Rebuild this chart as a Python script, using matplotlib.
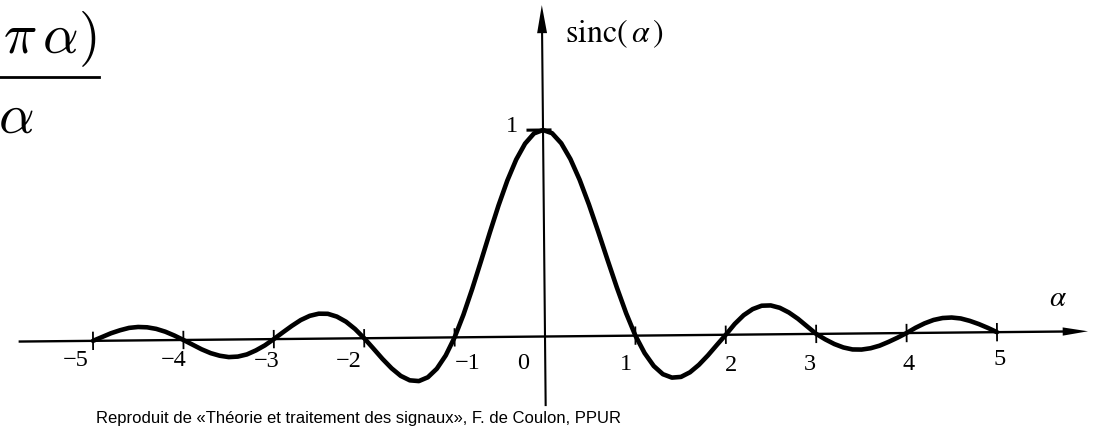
"""sinc(alpha) drawn as a textbook figure: bare axes, arrows, hand-placed labels."""

import numpy as np
import matplotlib
matplotlib.use('Agg')
import matplotlib.pyplot as plt
from matplotlib.transforms import Affine2D

# Curve samples, step 0.1 from -5 to 5
alpha = np.round(np.arange(-50, 51) / 10., 1)
sinc_vals = [
    0.000, 0.018, 0.036, 0.050, 0.061, 0.065, 0.063, 0.055, 0.041, 0.022,    # -5.0 .. -4.1
    0.000, -0.023, -0.046, -0.065, -0.078, -0.085, -0.083, -0.073, -0.054, -0.030,  # -4.0 .. -3.1
    0.000, 0.032, 0.063, 0.091, 0.111, 0.121, 0.120, 0.106, 0.081, 0.045,    # -3.0 .. -2.1
    0.000, -0.050, -0.101, -0.147, -0.184, -0.206, -0.210, -0.192, -0.151, -0.087,  # -2.0 .. -1.1
    0.000, 0.109, 0.234, 0.368, 0.505, 0.637, 0.757, 0.858, 0.935, 0.984,    # -1.0 .. -0.1
    1.000,                                                                   # 0
    0.984, 0.935, 0.858, 0.757, 0.637, 0.505, 0.368, 0.234, 0.109, 0.000,    # 0.1 .. 1.0
    -0.085, -0.148, -0.188, -0.205, -0.202, -0.180, -0.144, -0.099, -0.049, 0.000,  # 1.1 .. 2.0
    0.052, 0.094, 0.123, 0.139, 0.140, 0.128, 0.105, 0.074, 0.037, 0.000,    # 2.1 .. 3.0
    -0.027, -0.050, -0.067, -0.077, -0.078, -0.072, -0.060, -0.042, -0.022, 0.000,  # 3.1 .. 4.0
    0.025, 0.046, 0.062, 0.071, 0.073, 0.068, 0.056, 0.040, 0.021, 0.000,    # 4.1 .. 5.0
]

ticks = [-5, -4, -3, -2, -1, 1, 2, 3, 4, 5]
tick_labels = ['\u22125', '\u22124', '\u22123', '\u22122', '\u22121', '0', '1', '2', '3', '4', '5']
label_pos = [-5, -4, -3, -2, -1, 0, 1, 2, 3, 4, 5]
# pixel offsets of each label centre from its tick
label_dx = [-17, -10, -7, -15, 13, -22, -9, 5, -6, 2, 3]
label_dy = [-24, -24, -25, -25, -27, -27, -28, -29, -28, -28, -23]

credit = 'Reproduit de \u00abTh\u00e9orie et traitement des signaux\u00bb, F. de Coulon, PPUR'

W, H = 1095, 429
X0, Y0 = 545., 336.5          # origin in image pixels
SX, SY = 90.4, 206.5          # pixels per unit
TILT = 0.55                   # the page sits slightly rotated

fig = plt.figure(figsize=(W / 100., H / 100.), dpi=100)
ax = fig.add_axes([0, 0, 1, 1])
ax.set_xlim(-X0 / SX, (W - X0) / SX)
ax.set_ylim(-(H - Y0) / SY, Y0 / SY)
ax.axis('off')

tilt = ax.transData + Affine2D().rotate_deg_around(X0, H - Y0, TILT)

# axes with arrow heads
x_tip, y_tip = 6.007, 1.605
ax.plot([-5.81, x_tip - 0.2], [0, 0], color='black', lw=1.7, transform=tilt)
ax.fill([x_tip, x_tip - 0.28, x_tip - 0.28], [0, 0.02, -0.02], color='black',
        lw=0, transform=tilt)
ax.plot([0, 0], [-0.332, y_tip - 0.1], color='black', lw=1.5, transform=tilt)
ax.fill([0, -0.055, 0.055], [y_tip, y_tip - 0.136, y_tip - 0.136],
        color='black', lw=0, transform=tilt)

# small tick marks
for t in ticks:
    ax.plot([t, t], [-0.04, 0.04], color='black', lw=1.3, transform=tilt)
ax.plot([-0.166, 0.077], [1, 1], color='black', lw=2.2, transform=tilt)

ax.plot(alpha, sinc_vals, color='black', lw=3.3, solid_capstyle='round',
        solid_joinstyle='round', transform=tilt)

serif = ['Liberation Serif', 'DejaVu Serif']
for lab, p, dx, dy in zip(tick_labels, label_pos, label_dx, label_dy):
    ax.annotate(lab, xy=(p, 0), xytext=(dx, dy), textcoords='offset pixels',
                ha='center', va='center', fontsize=17.5, family=serif)
ax.annotate('1', xy=(0, 1), xytext=(-33, 3), textcoords='offset pixels',
            ha='center', va='center', fontsize=17.5, family=serif)

ax.text(565 / SX - X0 / SX, (Y0 - 33.5) / SY, r'$\mathrm{sinc}(\,\alpha\,)$',
        ha='left', va='center', fontsize=23, math_fontfamily='stix')
ax.text(1058 / SX - X0 / SX, (Y0 - 298) / SY, r'$\alpha$',
        ha='center', va='center', fontsize=21, math_fontfamily='stix')

# piece of the defining formula at the top left
fig.text(3 / W, 1 - 53 / H, r'$\pi\,\alpha)$', ha='left', va='baseline',
         fontsize=40, math_fontfamily='cm')
fig.text(-2 / W, 1 - 133 / H, r'$\alpha$', ha='left', va='baseline',
         fontsize=40, math_fontfamily='cm')
fig.add_artist(plt.Line2D([0, 99 / W], [1 - 77 / H, 1 - 77 / H],
                          color='black', lw=2.0))

fig.text(96 / W, 1 - 423 / H, credit, ha='left', va='baseline',
         fontsize=12, family=['Liberation Sans', 'DejaVu Sans'])

fig.savefig('out.png', dpi=100)
